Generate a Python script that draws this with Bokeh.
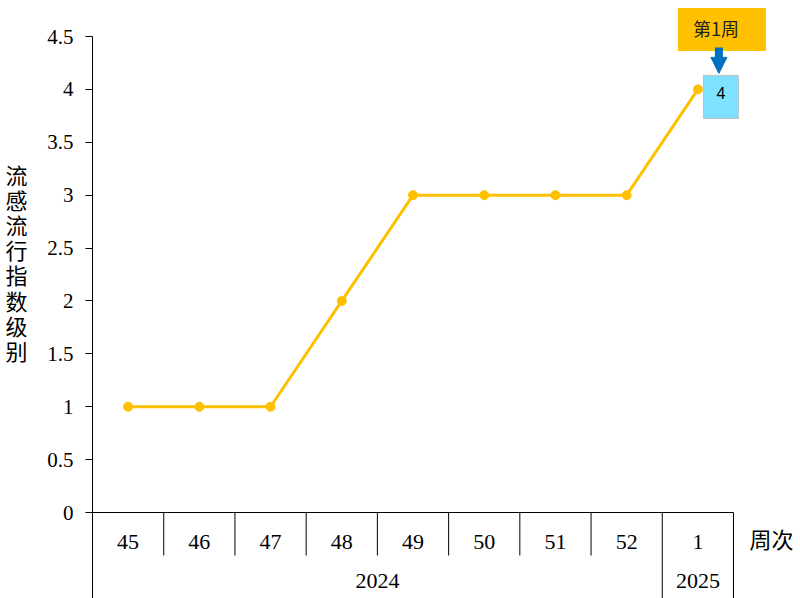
import numpy as np
from bokeh.plotting import figure
from bokeh.models import Range1d, FixedTicker, Label, Arrow, NormalHead, LinearAxis
from bokeh.core.properties import value
from bokeh.embed import file_html
from bokeh.resources import INLINE

# ---- data ----
weeks = ["45", "46", "47", "48", "49", "50", "51", "52", "1"]
levels = [1, 1, 1, 2, 3, 3, 3, 3, 4]
years = ["2024", "2025"]
weeks_per_year = [8, 1]
y_ticks = [0, 0.5, 1, 1.5, 2, 2.5, 3, 3.5, 4, 4.5]
y_tick_labels = ["0", "0.5", "1", "1.5", "2", "2.5", "3", "3.5", "4", "4.5"]
y_title = "流感流行指数级别"
x_title = "周次"
callout_title = "第1周"

# ---- layout constants ----
n = len(weeks)
PX_X = 641 / n            # px per category
PX_Y = 476 / 4.5          # px per level
LEFT = 92
FRAME_W = 706
FRAME_H = 598
Y_BOTTOM = -86 / PX_Y
Y_TOP = 4.5 + 36 / PX_Y
ROW1_Y = -29 / PX_Y
ROW2_Y = -68 / PX_Y
SEP_Y = -43 / PX_Y

x = np.arange(n) + 0.5
bounds = np.cumsum(weeks_per_year)
year_centers = bounds - np.array(weeks_per_year) / 2
short_sep = [b for b in range(1, n) if b not in bounds]
long_sep = list(bounds)

SERIF = "Liberation Serif"
CJK = "Noto Sans CJK SC"
GOLD = "#FFC000"

p = figure(frame_width=FRAME_W, frame_height=FRAME_H,
           min_border_left=LEFT, min_border_top=0, min_border_right=0,
           min_border_bottom=0,
           x_range=Range1d(0, FRAME_W / PX_X), y_range=Range1d(Y_BOTTOM, Y_TOP),
           x_axis_location=None, output_backend="svg", toolbar_location=None)
p.outline_line_color = None
p.xgrid.visible = False
p.ygrid.visible = False
p.background_fill_color = "white"
p.border_fill_color = "white"

ax = p.yaxis[0]
ax.ticker = FixedTicker(ticks=y_ticks)
ax.bounds = (Y_BOTTOM, max(y_ticks))
ax.major_label_overrides = {t: l for t, l in zip(y_ticks, y_tick_labels)}
ax.major_tick_out = 7
ax.major_tick_in = 0
ax.minor_tick_out = 0
ax.minor_tick_in = 0
ax.axis_line_color = "black"
ax.major_tick_line_color = "black"
ax.major_label_text_font = SERIF
ax.major_label_text_font_size = "21px"
ax.major_label_text_color = "black"
ax.major_label_standoff = 12

# second (label-only) axis carrying the stacked vertical title
# (three blank full-width lines lift the stacked title above the frame centre)
title_text = "\n".join(list(y_title) + ["\u3000"] * 3)
title_ax = LinearAxis(ticker=FixedTicker(ticks=[]),
                      axis_line_color=None, major_tick_out=0, major_tick_in=0,
                      minor_tick_out=0, minor_tick_in=0, major_label_standoff=0,
                      axis_label=title_text, axis_label_orientation="horizontal",
                      axis_label_text_font=CJK, axis_label_text_font_size="22px",
                      axis_label_text_font_style="normal", axis_label_text_color="black",
                      axis_label_text_line_height=0.784, axis_label_standoff=17)
p.add_layout(title_ax, "left")

# category axis (drawn in data space)
p.segment(x0=0, y0=0, x1=n, y1=0, line_color="black", line_width=1)
p.segment(x0=short_sep, y0=[0] * len(short_sep), x1=short_sep, y1=[SEP_Y] * len(short_sep),
          line_color="black", line_width=1)
p.segment(x0=long_sep, y0=[0] * len(long_sep), x1=long_sep, y1=[Y_BOTTOM] * len(long_sep),
          line_color="black", line_width=1)
p.text(x=x, y=[ROW1_Y] * n, text=weeks, text_font=value(SERIF), text_font_size="22px",
       text_align="center", text_baseline="middle", text_color="black")
p.text(x=year_centers, y=[ROW2_Y] * len(years), text=years, text_font=value(SERIF),
       text_font_size="22px", text_align="center", text_baseline="middle", text_color="black")
p.add_layout(Label(x=n, y=-25 / PX_Y, x_offset=38, text=x_title, text_align="center",
                   text_baseline="middle", text_font=CJK, text_font_size="22px",
                   text_color="black"))

# series
p.line(x, levels, line_color=GOLD, line_width=3)
p.scatter(x, levels, size=9, fill_color=GOLD, line_color=GOLD)

# callout (padding order: left, right, top, bottom)
xl, yl = x[-1], levels[-1]
p.add_layout(Label(x=xl, y=yl, x_offset=24, y_offset=60, text=callout_title,
                   text_align="center", text_baseline="middle", text_font=CJK,
                   text_font_size="18px", text_color="#222222",
                   background_fill_color=GOLD, padding=(15, 27, 7, 10)))
p.add_layout(Label(x=xl, y=yl, x_offset=23, y_offset=-7.5, text=str(levels[-1]),
                   text_align="center", text_baseline="middle", text_font="Liberation Sans",
                   text_font_size="16px", text_color="black",
                   background_fill_color="#7DE1FF", border_line_color="#BFBFBF",
                   border_line_width=1, padding=(13, 13, 12, 19)))
p.add_layout(Arrow(x_start=xl + 21 / PX_X, y_start=yl + 42 / PX_Y,
                   x_end=xl + 21 / PX_X, y_end=yl + 16 / PX_Y,
                   line_width=8, line_color="#0070C0",
                   end=NormalHead(size=16, fill_color="#0070C0", line_color="#0070C0")))

open("out.html", "w").write(file_html(p, INLINE))
